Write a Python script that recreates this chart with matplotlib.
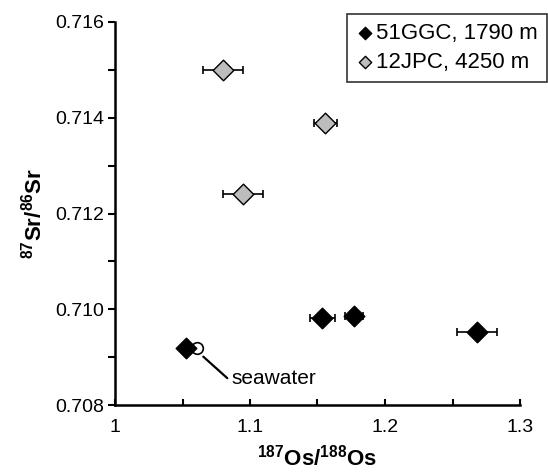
import numpy as np
import matplotlib.pyplot as plt
from matplotlib.ticker import MultipleLocator

plt.rcParams['font.family'] = ['Liberation Sans', 'DejaVu Sans']
plt.rcParams['mathtext.fontset'] = 'custom'
plt.rcParams['mathtext.rm'] = 'Liberation Sans:bold'
plt.rcParams['mathtext.default'] = 'rm'

# 51GGC, 1790 m
ggc_os = [1.0529, 1.1537, 1.177, 1.268]
ggc_sr = [0.70919, 0.70981, 0.70985, 0.70952]
ggc_err = [0.0, 0.0095, 0.007, 0.0146]

# 12JPC, 4250 m
jpc_os = [1.080, 1.1558, 1.0948]
jpc_sr = [0.7150, 0.71390, 0.71240]
jpc_err = [0.015, 0.0087, 0.015]

# seawater
sw_os = 1.0607
sw_sr = 0.70919

fig = plt.figure(figsize=(5.48, 4.72), dpi=100)
ax = fig.add_axes([115/548, 67/472, 405/548, 383/472])

ax.errorbar(ggc_os, ggc_sr, xerr=ggc_err, fmt='none', ecolor='black',
            elinewidth=1.2, capsize=3, capthick=1.2, zorder=2)
ax.errorbar(jpc_os, jpc_sr, xerr=jpc_err, fmt='none', ecolor='black',
            elinewidth=1.2, capsize=3, capthick=1.2, zorder=2)
ax.scatter(sw_os, sw_sr, s=70, facecolor='white', edgecolor='black',
           linewidth=1.2, zorder=3)
ax.scatter(ggc_os, ggc_sr, marker='D', s=110, color='black',
           edgecolor='black', linewidth=1, zorder=4, label='51GGC, 1790 m')
ax.scatter(jpc_os, jpc_sr, marker='D', s=110, color='#bdbdbd',
           edgecolor='black', linewidth=1, zorder=4, label='12JPC, 4250 m')

# seawater leader line and label
ax.annotate('', xy=(1.0654, 0.70901), xytext=(1.0832, 0.70856),
            arrowprops=dict(arrowstyle='-', color='black', lw=1.6,
                            shrinkA=0, shrinkB=0))
ax.text(1.0864, 0.70856, 'seawater', fontsize=15, va='center', ha='left')

ax.set_xlim(1, 1.3)
ax.set_ylim(0.708, 0.716)
ax.xaxis.set_minor_locator(MultipleLocator(0.05))
ax.yaxis.set_minor_locator(MultipleLocator(0.001))
ax.set_xticks([1, 1.1, 1.2, 1.3])
ax.set_xticklabels(['1', '1.1', '1.2', '1.3'])
ax.set_yticks(np.arange(0.708, 0.7161, 0.002))
ax.set_yticklabels(['0.708', '0.710', '0.712', '0.714', '0.716'])

ax.spines['top'].set_visible(False)
ax.spines['right'].set_visible(False)
ax.spines['left'].set_linewidth(1.8)
ax.spines['bottom'].set_linewidth(1.8)
ax.tick_params(axis='x', which='both', direction='in', length=4, width=1.5,
               labelsize=14, pad=10)
ax.tick_params(axis='y', which='both', direction='out', length=5, width=1.5,
               labelsize=14, pad=3)

ax.set_xlabel(r'$^{187}$Os/$^{188}$Os', fontsize=16, fontweight='bold',
              labelpad=6)
ax.set_ylabel(r'$^{87}$Sr/$^{86}$Sr', fontsize=16, fontweight='bold',
              labelpad=6)

leg = ax.legend(loc='upper right', bbox_to_anchor=(547/548, 1 - 14/472),
                bbox_transform=fig.transFigure, fontsize=16, frameon=True,
                fancybox=False, edgecolor='black', handletextpad=0.1,
                handlelength=0.8, borderpad=0.4, labelspacing=0.35,
                markerscale=0.6, borderaxespad=0)
leg.get_frame().set_linewidth(1.2)

fig.savefig('out.png', dpi=100)
